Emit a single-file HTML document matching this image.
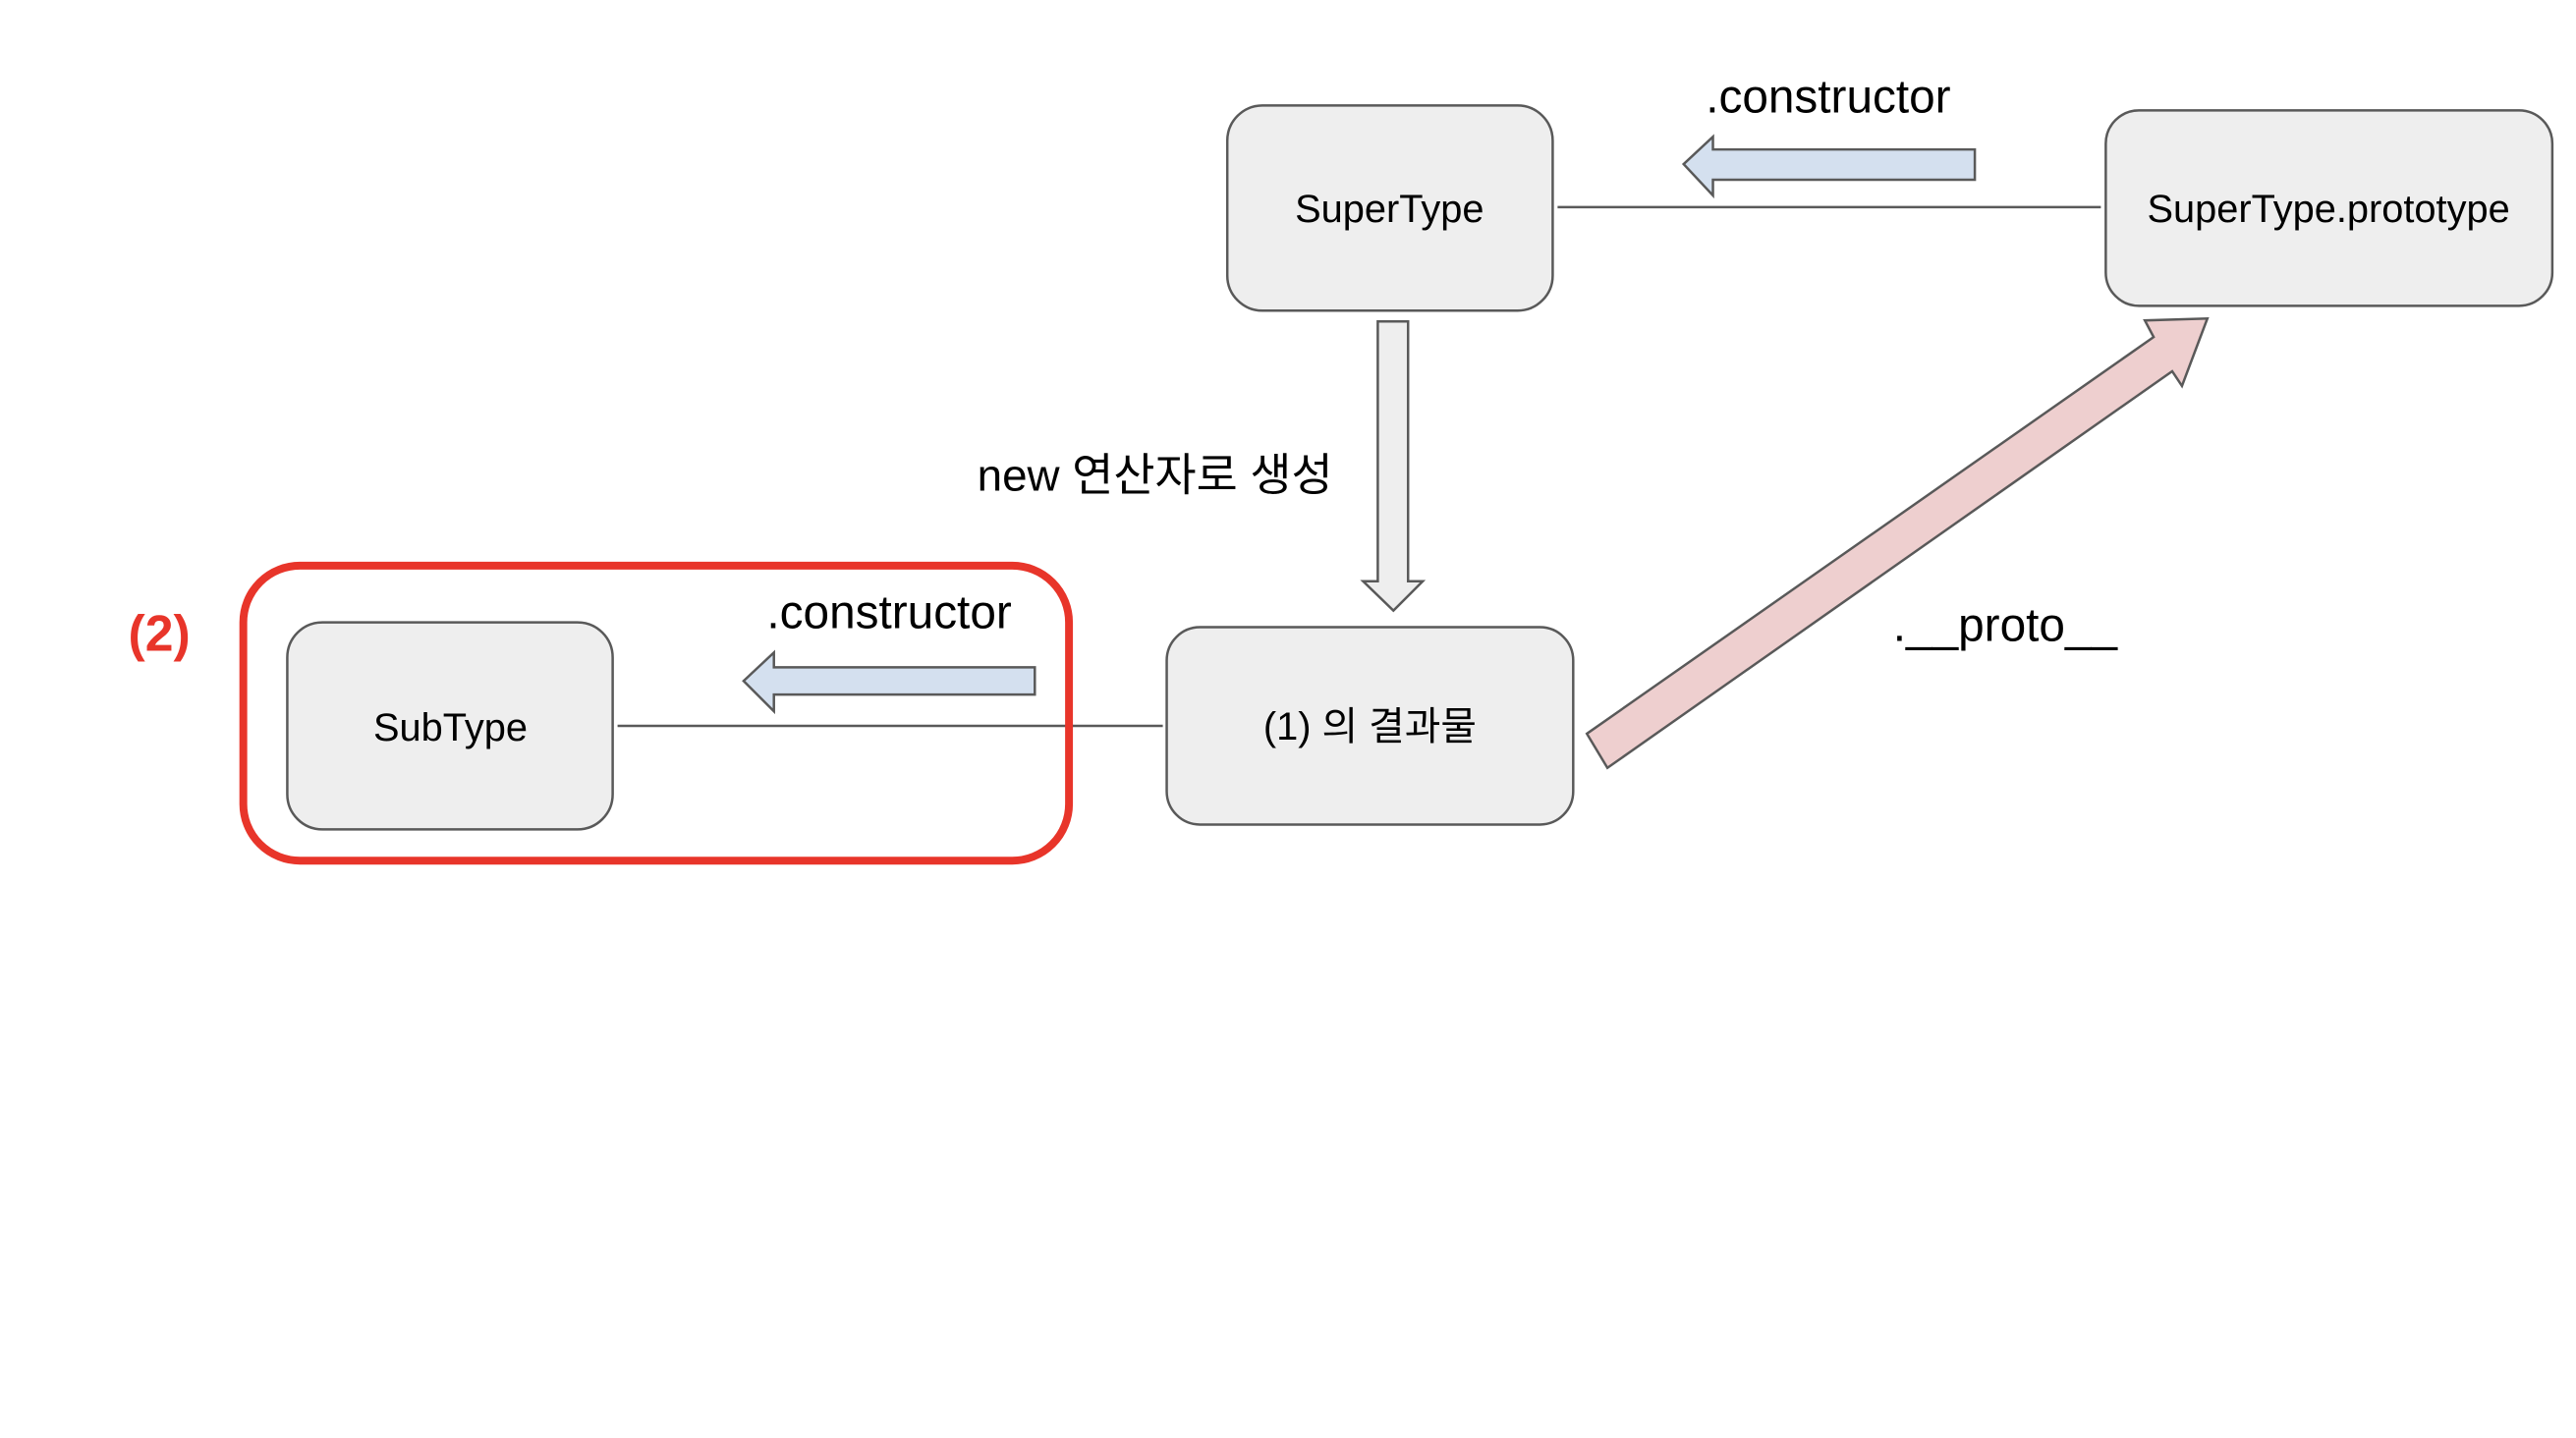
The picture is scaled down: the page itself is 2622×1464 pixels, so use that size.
<!DOCTYPE html>
<html><head><meta charset="utf-8"><style>
html,body{margin:0;padding:0;background:#fff;}
svg{display:block;}
text{font-family:"Liberation Sans","Noto Sans CJK KR",sans-serif;}
</style></head><body>
<svg width="2622" height="1464" viewBox="0 0 2622 1464" xmlns="http://www.w3.org/2000/svg">
<rect width="2622" height="1464" fill="#fff"/>
<g transform="translate(0,2) scale(0.9946)">
<line x1="1594" y1="210" x2="2150" y2="210" stroke="#595959" stroke-width="2.5"/>
<line x1="632" y1="741" x2="1190" y2="741" stroke="#595959" stroke-width="2.5"/>
<rect x="1256" y="106" width="333" height="210" rx="36" fill="#eeeeee" stroke="#595959" stroke-width="2.5"/>
<rect x="2155" y="111" width="457" height="200" rx="34" fill="#eeeeee" stroke="#595959" stroke-width="2.5"/>
<rect x="1194" y="640" width="416" height="202" rx="34" fill="#eeeeee" stroke="#595959" stroke-width="2.5"/>
<rect x="294" y="635" width="333" height="212" rx="36" fill="#eeeeee" stroke="#595959" stroke-width="2.5"/>
<text x="1422" y="225" font-size="40" text-anchor="middle" fill="#000">SuperType</text>
<text x="2383" y="225" font-size="40" text-anchor="middle" fill="#000">SuperType.prototype</text>
<text x="1402" y="755" font-size="40" text-anchor="middle" fill="#000">(1) 의 결과물</text>
<text x="461" y="756" font-size="40" text-anchor="middle" fill="#000">SubType</text>
<rect x="249" y="577" width="845" height="302" rx="58" fill="none" stroke="#e8352a" stroke-width="8"/>
<text x="163" y="664" font-size="52" font-weight="bold" text-anchor="middle" fill="#e8352a">(2)</text>
<polygon points="2021,151 1753,151 1753,138 1723,166 1753,198 1753,182 2021,182" fill="#d4e0ef" stroke="#595959" stroke-width="2.5"/>
<polygon points="1059,681 792,681 792,666 761,695 792,726 792,709 1059,709" fill="#d4e0ef" stroke="#595959" stroke-width="2.5"/>
<text x="1871" y="113" font-size="48" text-anchor="middle" fill="#000">.constructor</text>
<text x="910" y="641" font-size="48" text-anchor="middle" fill="#000">.constructor</text>
<polygon points="1410,327 1441,327 1441,593 1456,593 1426,623 1395,593 1410,593" fill="#eeeeee" stroke="#595959" stroke-width="2.5"/>
<text x="1182" y="500" font-size="46" text-anchor="middle" fill="#000">new 연산자로 생성</text>
<polygon points="1624,749 2204,343 2195,326 2259,324 2233,393 2223,378 1645,784" fill="#eecfcf" stroke="#595959" stroke-width="2.5"/>
<text x="2052" y="654" font-size="48" text-anchor="middle" fill="#000">.__proto__</text>
</g>
</svg>
</body></html>
